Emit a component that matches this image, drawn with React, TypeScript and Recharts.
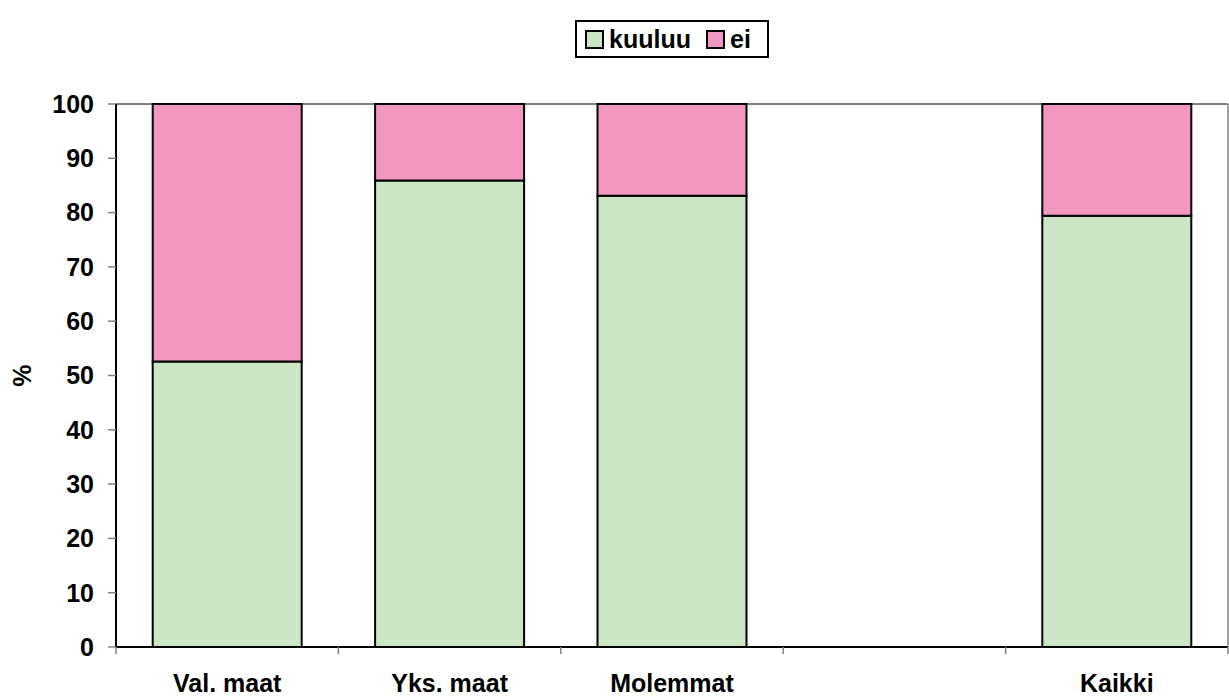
import React from 'react';
import { BarChart, Bar, XAxis, YAxis, CartesianGrid, Legend } from 'recharts';

const categories = ['Val. maat', 'Yks. maat', 'Molemmat', '', 'Kaikki'];
const seriesNames = ['kuuluu', 'ei'];
const kuuluuValues: (number | null)[] = [52.6, 85.9, 83.1, null, 79.4];
const eiValues: (number | null)[] = [47.4, 14.1, 16.9, null, 20.6];
const yTicks = [0, 10, 20, 30, 40, 50, 60, 70, 80, 90, 100];

const data = categories.map((name, i) => ({
  name,
  kuuluu: kuuluuValues[i],
  ei: eiValues[i],
}));

const FONT = 'Arial, "Liberation Sans", sans-serif';
const FS = 25;
const GREEN = '#CCE5C4';
const PINK = '#F197C0';

const XTick = (props: any) => {
  const { x, y, payload, index, visibleTicksCount } = props;
  const half = payload && payload.offset ? payload.offset : 111;
  const axisY = y - 8;
  return (
    <g>
      <line x1={x - half} x2={x - half} y1={axisY} y2={axisY + 7} stroke="#808080" strokeWidth={1.5} />
      {index === visibleTicksCount - 1 && (
        <line x1={x + half} x2={x + half} y1={axisY} y2={axisY + 7} stroke="#808080" strokeWidth={1.5} />
      )}
      <text
        x={x}
        y={y}
        dy={37}
        textAnchor="middle"
        fontFamily={FONT}
        fontWeight="bold"
        fontSize={FS}
        fill="#000"
      >
        {payload.value}
      </text>
    </g>
  );
};

const LegendBox = (props: any) => {
  const items = [...(props.payload || [])].sort(
    (a: any, b: any) => seriesNames.indexOf(a.value) - seriesNames.indexOf(b.value)
  );
  return (
    <div style={{ height: 84, display: 'flex', justifyContent: 'center' }}>
      <div
        style={{
          height: 34,
          border: '2px solid #000',
          display: 'flex',
          alignItems: 'center',
          padding: '0 16px 0 8px',
          fontFamily: FONT,
          fontWeight: 'bold',
          fontSize: FS,
          background: '#fff',
        }}
      >
        {items.map((entry: any, i: number) => (
          <div
            key={entry.value}
            style={{ display: 'flex', alignItems: 'center', marginRight: i < items.length - 1 ? 15 : 0 }}
          >
            <span
              style={{
                display: 'inline-block',
                width: 15,
                height: 15,
                border: '2px solid #000',
                background: entry.color,
                marginRight: 5,
              }}
            />
            <span>{entry.value}</span>
          </div>
        ))}
      </div>
    </div>
  );
};

export default function App() {
  return (
    <div style={{ position: 'absolute', left: 0, top: 0, background: '#fff' }}>
      <BarChart
        width={1229}
        height={699}
        data={data}
        margin={{ top: 20, right: 0, bottom: 0, left: 0 }}
        barCategoryGap="16.5%"
      >
        <CartesianGrid vertical={false} stroke="#000" strokeWidth={1} />
        <Legend
          verticalAlign="top"
          align="center"
          content={<LegendBox />}
          wrapperStyle={{ left: 116, width: 1112 }}
        />
        <XAxis
          dataKey="name"
          height={52}
          tickLine={false}
          axisLine={{ stroke: '#000', strokeWidth: 2 }}
          tick={<XTick />}
          interval={0}
        />
        <YAxis
          yAxisId="left"
          width={116}
          domain={[0, 100]}
          ticks={yTicks}
          interval={0}
          axisLine={{ stroke: '#000', strokeWidth: 2 }}
          tickLine={{ stroke: '#808080', strokeWidth: 1.5 }}
          tickSize={8}
          tickMargin={14}
          tick={{ fill: '#000', fontFamily: FONT, fontWeight: 'bold', fontSize: FS }}
          label={{
            content: (p: any) => {
              const vb = p.viewBox || { x: 0, y: 104, height: 543 };
              const cx = vb.x + 22;
              const cy = vb.y + vb.height / 2;
              return (
                <text
                  x={cx}
                  y={cy}
                  transform={`rotate(-90 ${cx} ${cy})`}
                  textAnchor="middle"
                  dominantBaseline="central"
                  fontFamily={FONT}
                  fontWeight="bold"
                  fontSize={FS}
                  fill="#000"
                >
                  %
                </text>
              );
            },
          }}
        />
        <YAxis
          yAxisId="right"
          orientation="right"
          width={1}
          domain={[0, 100]}
          tick={false}
          tickLine={false}
          axisLine={{ stroke: '#808080', strokeWidth: 1.5 }}
        />
        <Bar
          yAxisId="left"
          dataKey="kuuluu"
          name="kuuluu"
          stackId="a"
          fill={GREEN}
          stroke="#000"
          strokeWidth={2}
          isAnimationActive={false}
        />
        <Bar
          yAxisId="left"
          dataKey="ei"
          name="ei"
          stackId="a"
          fill={PINK}
          stroke="#000"
          strokeWidth={2}
          isAnimationActive={false}
        />
      </BarChart>
    </div>
  );
}
